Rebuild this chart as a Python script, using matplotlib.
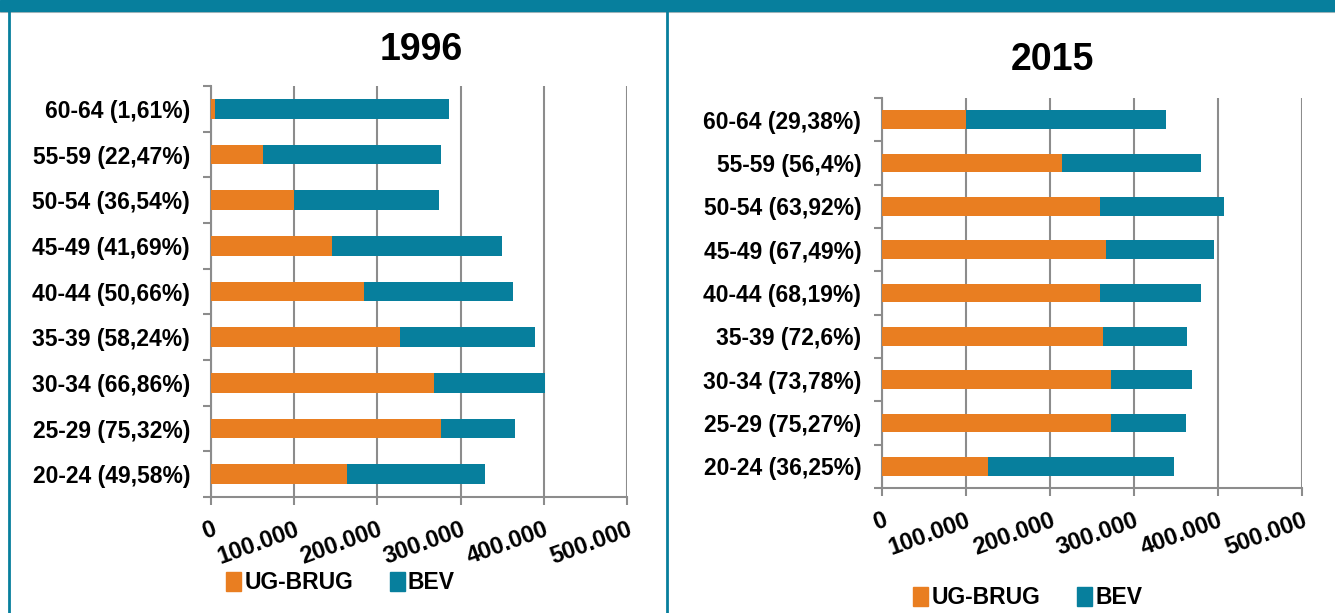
import matplotlib.pyplot as plt
from matplotlib.lines import Line2D
from matplotlib.patches import Rectangle
from matplotlib.ticker import FuncFormatter, FixedLocator

plt.rcParams['font.family'] = ['Liberation Sans', 'DejaVu Sans']
plt.rcParams['font.weight'] = 'bold'

ORANGE = '#E97E21'
TEAL = '#077F9D'
GRID = '#8C8C8C'

labels_1996 = ['20-24 (49,58%)', '25-29 (75,32%)', '30-34 (66,86%)', '35-39 (58,24%)',
               '40-44 (50,66%)', '45-49 (41,69%)', '50-54 (36,54%)', '55-59 (22,47%)',
               '60-64 (1,61%)']
ug_1996 = [163000, 276000, 268000, 227000, 184000, 146000, 100000, 62000, 4600]
bev_1996 = [166000, 90000, 133000, 163000, 179000, 204000, 174000, 215000, 282000]

labels_2015 = ['20-24 (36,25%)', '25-29 (75,27%)', '30-34 (73,78%)', '35-39 (72,6%)',
               '40-44 (68,19%)', '45-49 (67,49%)', '50-54 (63,92%)', '55-59 (56,4%)',
               '60-64 (29,38%)']
ug_2015 = [126000, 272000, 272000, 263500, 259000, 266500, 260000, 214000, 99400]
bev_2015 = [221000, 89500, 97000, 99500, 121000, 128500, 147500, 166000, 238600]

series = ['UG-BRUG', 'BEV']
x_ticks = [0, 100000, 200000, 300000, 400000, 500000]


def dotted(v, pos):
    return '{:,.0f}'.format(v).replace(',', '.')


def draw(ax, labels, ug, bev, title, title_xy, leg_xy):
    y = range(len(labels))
    ax.barh(y, ug, height=0.43, color=ORANGE, zorder=3)
    ax.barh(y, bev, left=ug, height=0.43, color=TEAL, zorder=3)
    ax.set_xlim(0, 500000)
    ax.set_ylim(-0.5, len(labels) - 0.5)
    ax.set_yticks(list(y))
    ax.set_yticklabels(labels, fontsize=16.5, fontweight='bold')
    ax.yaxis.set_minor_locator(FixedLocator([i - 0.5 for i in range(len(labels) + 1)]))
    ax.tick_params(axis='y', which='major', length=0, pad=15)
    ax.tick_params(axis='y', which='minor', length=6, color=GRID, width=1.5)
    ax.xaxis.set_major_locator(FixedLocator(x_ticks))
    ax.xaxis.set_major_formatter(FuncFormatter(dotted))
    ax.tick_params(axis='x', length=6, color=GRID, width=1.5, pad=9)
    for t in ax.get_xticklabels():
        t.set_rotation(20)
        t.set_ha('right')
        t.set_rotation_mode('anchor')
        t.set_fontsize(17)
        t.set_fontweight('bold')
    ax.grid(axis='x', color=GRID, linewidth=1.5, zorder=0)
    for s in ['top', 'right']:
        ax.spines[s].set_visible(False)
    for s in ['left', 'bottom']:
        ax.spines[s].set_color(GRID)
        ax.spines[s].set_linewidth(1.5)
    fig.text(title_xy[0], title_xy[1], title, ha='center', va='center',
             fontsize=27, fontweight='bold')
    handles = [Rectangle((0, 0), 1, 1, color=ORANGE), Rectangle((0, 0), 1, 1, color=TEAL)]
    fig.legend(handles, series, loc='center', bbox_to_anchor=leg_xy, ncol=2,
               frameon=False, handlelength=0.65, handleheight=0.9, handletextpad=0.15,
               columnspacing=1.6, prop={'size': 16.5, 'weight': 'bold'})


fig = plt.figure(figsize=(13.35, 6.13), dpi=100)

ax1 = fig.add_axes([0.158, 0.1892, 0.3116, 0.6705])
ax2 = fig.add_axes([0.6607, 0.2039, 0.3146, 0.6362])
draw(ax1, labels_1996, ug_1996, bev_1996, '1996', (0.3154, 0.918), (0.255, 0.049))
draw(ax2, labels_2015, ug_2015, bev_2015, '2015', (0.788, 0.902), (0.77, 0.0245))

# banner and panel borders
fig.add_artist(Rectangle((0, 1 - 11 / 613), 1, 11 / 613, transform=fig.transFigure,
                         color=TEAL, zorder=5))
fig.add_artist(Line2D([0, 1], [1 - 12 / 613] * 2, transform=fig.transFigure,
                      color='#C0C0C0', linewidth=1.5))
for xp in [9, 667]:
    fig.add_artist(Line2D([xp / 1335] * 2, [0, 1 - 12 / 613], transform=fig.transFigure,
                          color=TEAL, linewidth=2))

fig.savefig('out.png', dpi=100)
